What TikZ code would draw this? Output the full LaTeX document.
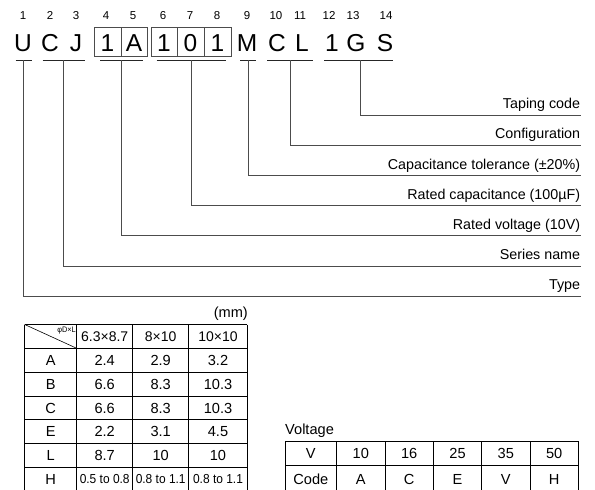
\documentclass[tikz,border=0pt]{standalone}
\usepackage{fontspec}
\setmainfont{Liberation Sans}
\newfontfamily\condfont[FakeStretch=0.92]{Liberation Sans}
\usetikzlibrary{calc}
\begin{document}
\begin{tikzpicture}[x=1pt,y=-1pt,
 code/.style={font=\fontsize{24.5}{28}\selectfont, inner sep=0pt, anchor=base},
 posn/.style={font=\fontsize{11.5}{13}\selectfont, inner sep=0pt, anchor=base},
 lbl/.style={font=\fontsize{14.3}{17}\selectfont, inner sep=0pt, anchor=base east},
 uline/.style={draw=black!85, line width=0.8pt},
 conn/.style={draw=black!70, line width=0.75pt},
 boxline/.style={draw=black!70, line width=0.8pt},
 gridline/.style={draw=black, line width=0.8pt},
 cell/.style={font=\fontsize{14.6}{17}\selectfont, inner sep=0pt, anchor=base},
 headcell/.style={font=\fontsize{14}{16}\selectfont, inner sep=0pt, anchor=base},
 smallcell/.style={font=\condfont\fontsize{13}{15}\selectfont, inner sep=0pt, anchor=base},
 tiny/.style={font=\condfont\fontsize{8}{9}\selectfont, inner sep=0pt, anchor=north east},
]
\useasboundingbox (0,0) rectangle (595,490);
\clip (0,0) rectangle (595,490);

% position numbers
\foreach \n/\x in {1/23,2/50,3/76,4/106,5/133,6/163,7/190,8/217,9/247,10/276,11/300,12/329,13/353,14/386}
  \node[posn] (p\n) at (\x,19.3) {\n};

% code letters
\foreach \n/\x/\t in {1/23/U,2/50/C,3/76/J,4/107.5/1,5/134/A,6/164/1,7/190.5/0,8/217.5/1,9/247/M,10/277/C,11/302/L,12/332/1,13/356/G,14/385/S}
  \node[code] (c\n) at (\x,51.5) {\t};

% boxes
\draw[boxline] (94,27) rectangle (147,56) (121,27) -- (121,56);
\draw[boxline] (151,27) rectangle (231,56) (177.7,27) -- (177.7,56) (204.3,27) -- (204.3,56);

% underline ends and connector starts
\foreach \g/\a/\b/\m in {U/15.5/31.5/23.5, CJ/42.7/85/63.5, VA/100/142.7/121, CAP/156.7/226/191, M/240/256/248, CL/267.3/313.3/290, TP/324/392.7/360.5}{
  \coordinate (\g-a) at (\a,60.3);
  \coordinate (\g-b) at (\b,60.3);
  \coordinate (\g-m) at (\m,60.3);
  \draw[uline] (\g-a) -- (\g-b);
}

% labels and their line ends
\foreach \g/\y/\t in {TP/115.2/Taping code, CL/145.3/Configuration, M/175.5/{Capacitance tolerance (±20\%)}, CAP/205.6/{Rated capacitance (100µF)}, VA/235.7/{Rated voltage (10V)}, CJ/265.9/Series name, U/296/Type}{
  \coordinate (\g-e) at (580.6,\y);
  \node[lbl] (\g-lab) at (580.3,\y-6.5) {\t};
  \draw[conn] (\g-m) |- (\g-e);
}

% ---------- dimension table ----------
\def\rh{23.8}
\node[cell, anchor=base east] (mm) at (248,317.5) {(mm)};
\foreach \k in {0,...,6}
  \draw[gridline] (24.7,324.5+\rh*\k) -- (247,324.5+\rh*\k);
\foreach \x in {24.7,76.7,132.7,188.7,247}
  \draw[gridline] (\x,324.5) -- (\x,500);
\draw[line width=0.6pt] (24.7,324.5) -- (76.7,324.5+\rh);
\node[tiny] (phi) at (76,326.3) {φD×L};
\node[headcell] (h1) at (104.7,324.5+0.5*\rh+5) {6.3×8.7};
\node[headcell] (h2) at (160.7,324.5+0.5*\rh+5) {8×10};
\node[headcell] (h3) at (218,324.5+0.5*\rh+5) {10×10};
\foreach \r/\l/\a/\b/\c in {1/A/2.4/2.9/3.2, 2/B/6.6/8.3/10.3, 3/C/6.6/8.3/10.3, 4/E/2.2/3.1/4.5, 5/L/8.7/10/10}{
  \node[cell] (r\r l) at (50.7,324.5+\rh*\r+0.5*\rh+5.2) {\l};
  \node[cell] (r\r a) at (104.7,324.5+\rh*\r+0.5*\rh+5.2) {\a};
  \node[cell] (r\r b) at (160.7,324.5+\rh*\r+0.5*\rh+5.2) {\b};
  \node[cell] (r\r c) at (218,324.5+\rh*\r+0.5*\rh+5.2) {\c};
}
\node[cell] (r6l) at (50.7,324.5+6.5*\rh+5.2) {H};
\node[smallcell] (r6a) at (104.7,324.5+6.5*\rh+4.7) {0.5 to 0.8};
\node[smallcell] (r6b) at (160.7,324.5+6.5*\rh+4.7) {0.8 to 1.1};
\node[smallcell] (r6c) at (218,324.5+6.5*\rh+4.7) {0.8 to 1.1};

% ---------- voltage table ----------
\node[cell, anchor=base west] (vt) at (285,434.5) {Voltage};
\foreach \y in {441,465}
  \draw[gridline] (285,\y) -- (578.5,\y);
\foreach \x in {285,336.7,385,433.4,481.7,530,578.5}
  \draw[gridline] (\x,441) -- (\x,500);
\foreach \i/\x/\v/\c in {0/310.8/V/Code, 1/360.8/10/A, 2/409.2/16/C, 3/457.5/25/E, 4/505.8/35/V, 5/554.2/50/H}{
  \node[cell] (v\i) at (\x,458.3) {\v};
  \node[cell] (k\i) at (\x,484.3) {\c};
}
\end{tikzpicture}
\end{document}
